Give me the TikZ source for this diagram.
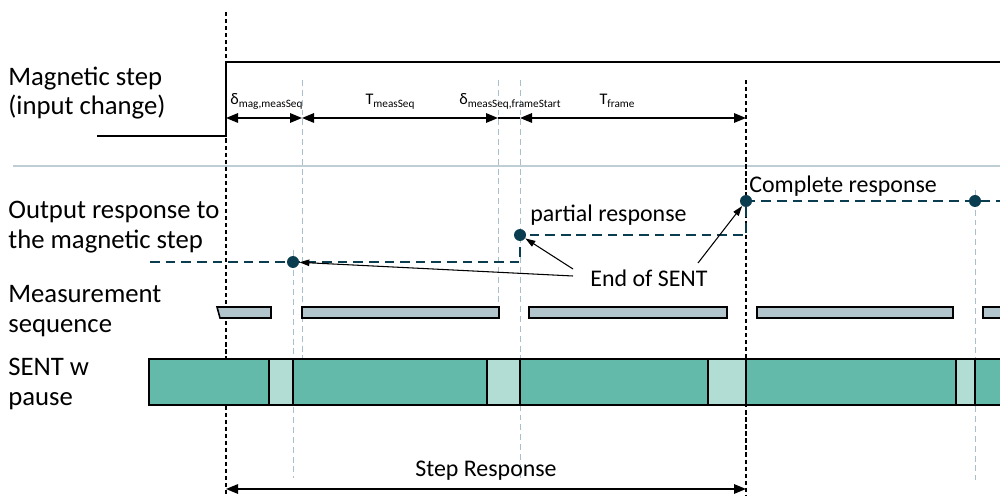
\documentclass[tikz,border=0pt]{standalone}
\usepackage{fontspec}
\setmainfont{Carlito}
\usetikzlibrary{arrows.meta}
\definecolor{resp}{HTML}{0B3D50}
\definecolor{meas}{HTML}{B3C5CC}
\definecolor{sentg}{HTML}{64BAAA}
\definecolor{sentl}{HTML}{B2DDD4}
\definecolor{guide}{HTML}{A8BFCC}
\definecolor{sep}{HTML}{BFCDD4}
\begin{document}
\begin{tikzpicture}[x=0.02cm,y=-0.02cm,
  lbl/.style={anchor=west,align=left,inner sep=0pt,font=\fontsize{15.2}{17}\selectfont},
  txt/.style={inner sep=0pt,font=\fontsize{13.6}{15}\selectfont},
  small/.style={inner sep=0pt,font=\fontsize{9.2}{10}\selectfont},
  blackdash/.style={black,line width=0.6pt,dash pattern=on 2.4pt off 1.6pt},
  guideline/.style={guide,line width=0.5pt,dash pattern=on 3.4pt off 2.2pt},
  dim/.style={line width=0.85pt,{Triangle[length=0.24cm,width=0.19cm]}-{Triangle[length=0.24cm,width=0.19cm]}},
  ptr/.style={line width=0.6pt,-{Triangle[length=0.2cm,width=0.13cm]}},
  respline/.style={resp,line width=1.4pt,dash pattern=on 5.5pt off 3.4pt},
  dot/.style={circle,fill=resp,inner sep=0pt,minimum size=0.24cm},
  measbar/.style={draw=black,fill=meas,line width=0.9pt},
  sentbar/.style={draw=black,fill=sentg,line width=0.9pt},
  pausebar/.style={draw=black,fill=sentl,line width=0.9pt}]
\useasboundingbox (0,0) rectangle (1000,496);

% separator
\draw[sep,line width=1pt] (13,166) -- (1000,166);

% light guide lines
\draw[guideline] (302,80) -- (302,359);
\draw[guideline] (498,80) -- (498,307);
\draw[guideline] (520,80) -- (520,478);
\draw[guideline] (293,250) -- (293,478);
\draw[guideline] (975,190) -- (975,480);

% black dashed reference lines
\draw[blackdash] (226,12) -- (226,496);
\draw[blackdash] (746,80) -- (746,496);

% labels
\node[lbl] (l1) at (8,93) {Magnetic step\\(input change)};
\node[lbl] (l2) at (8,227) {Output response to\\the magnetic step};
\node[lbl] (l3) at (8,311) {Measurement\\sequence};
\node[lbl] (l4) at (8,384) {SENT w\\pause};

% magnetic step
\draw[line width=1.4pt] (97,136) -- (226,136) -- (226,62) -- (1000,62);

% dimension arrows
\coordinate (a0) at (226,118);
\coordinate (a1) at (302,118);
\coordinate (a2) at (498,118);
\coordinate (a3) at (520,118);
\coordinate (a4) at (746,118);
\draw[line width=0.85pt] (a2) -- (a3);
\draw[dim] (a0) -- (a1);
\draw[dim] (a1) -- (a2);
\draw[dim] (a3) -- (a4);
\node[small,anchor=base west] (t1) at (230,105) {δ\raisebox{-0.35ex}{\fontsize{6.4}{7}\selectfont mag,measSeq}};
\node[small,anchor=base] (t2) at (390,105) {T\raisebox{-0.35ex}{\fontsize{6.4}{7}\selectfont measSeq}};
\node[small,anchor=base west] (t3) at (459,105) {δ\raisebox{-0.35ex}{\fontsize{6.4}{7}\selectfont measSeq,frameStart}};
\node[small,anchor=base] (t4) at (617,105) {T\raisebox{-0.35ex}{\fontsize{6.4}{7}\selectfont frame}};

% output response
\draw[respline] (150,262) -- (520,262) -- (520,235) -- (746,235) -- (746,201) -- (1000,201);
\node[dot] (d1) at (293,262) {};
\node[dot] (d2) at (520,235) {};
\node[dot] (d3) at (746,201) {};
\node[dot] (d4) at (975,201) {};
\node[txt,anchor=west] (pr) at (530,215) {partial response};
\node[txt,anchor=west] (cr) at (749,186) {Complete response};
\node[txt,anchor=west] (es) at (590,278) {End of SENT};
\coordinate (e1) at (573,276);
\coordinate (e2) at (573,269);
\coordinate (e3) at (698,263);
\draw[ptr] (e1) -- (d1);
\draw[ptr] (e2) -- (d2);
\draw[ptr] (e3) -- (d3);

% measurement sequence
\draw[measbar] (217,307) -- (271,307) -- (271,318) -- (220,318) -- cycle;
\draw[measbar] (302,307) rectangle (499,318);
\draw[measbar] (529,307) rectangle (727,318);
\draw[measbar] (757,307) rectangle (953,318);
\draw[measbar] (983,307) rectangle (1003,318);

% SENT with pause
\draw[sentbar] (149,359) rectangle (269,405);
\draw[pausebar] (269,359) rectangle (293,405);
\draw[sentbar] (293,359) rectangle (487,405);
\draw[pausebar] (487,359) rectangle (520,405);
\draw[sentbar] (520,359) rectangle (708,405);
\draw[pausebar] (708,359) rectangle (746,405);
\draw[sentbar] (746,359) rectangle (956,405);
\draw[pausebar] (956,359) rectangle (975,405);
\draw[sentbar] (975,359) rectangle (1003,405);

% step response
\coordinate (s0) at (226,489);
\coordinate (s1) at (746,489);
\draw[dim] (s0) -- (s1);
\node[txt] (sr) at (486,471) {Step Response};
\end{tikzpicture}
\end{document}
